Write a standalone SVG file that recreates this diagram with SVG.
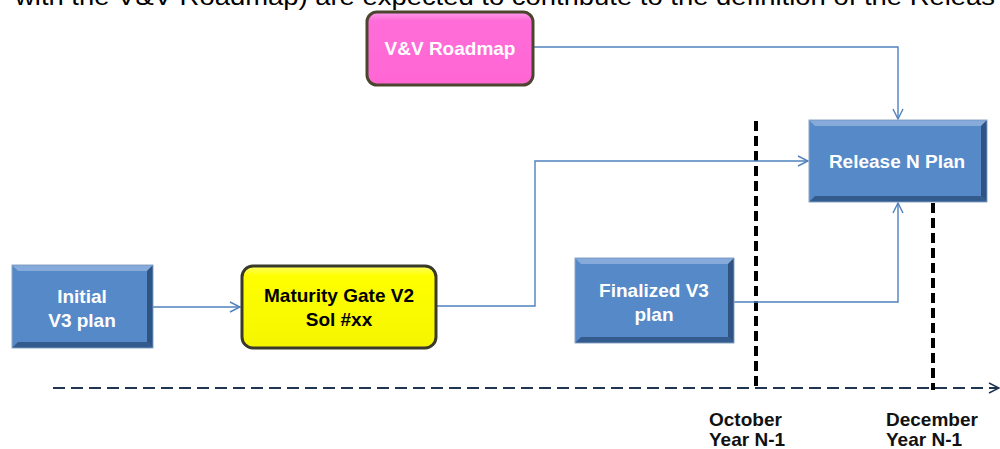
<svg xmlns="http://www.w3.org/2000/svg" width="1000" height="449" viewBox="0 0 1000 449">
<style>
.lbl{font-family:"Liberation Sans",Arial,sans-serif;font-weight:bold;font-size:19px;text-anchor:middle}
.w{fill:#ffffff}
.k{fill:#000000}
.conn{fill:none;stroke:#4F81BD;stroke-width:1.4}
.date{font-family:"Liberation Sans",Arial,sans-serif;font-weight:bold;font-size:19px;fill:#111111}
.blue{fill:#5589C8;stroke:#8FA6C2;stroke-width:1}
.hi{fill:#86ABDB}
.sh{fill:#2F5483}
</style>
<defs>
<marker id="arr" viewBox="0 0 12 12" refX="11" refY="6" markerWidth="12" markerHeight="12" markerUnits="userSpaceOnUse" orient="auto">
<path d="M1,1 L11,6 L1,11" fill="none" stroke="#4F81BD" stroke-width="1.4"/>
</marker>
<marker id="tarr" viewBox="0 0 12 12" refX="11" refY="6" markerWidth="12" markerHeight="12" markerUnits="userSpaceOnUse" orient="auto">
<path d="M1,1 L11,6 L1,11" fill="none" stroke="#1F3550" stroke-width="1.5"/>
</marker>
<linearGradient id="pink" x1="0" y1="0" x2="0" y2="1">
<stop offset="0" stop-color="#FF9CEB"/>
<stop offset="0.12" stop-color="#FF6DD8"/>
<stop offset="1" stop-color="#FF66D4"/>
</linearGradient>
<linearGradient id="yel" x1="0" y1="0" x2="0" y2="1">
<stop offset="0" stop-color="#FFFF66"/>
<stop offset="0.12" stop-color="#FFFF00"/>
<stop offset="1" stop-color="#F5F500"/>
</linearGradient>
</defs>

<text x="15" y="5" font-family="Liberation Sans, Arial, sans-serif" font-size="24" fill="#000" textLength="980" lengthAdjust="spacingAndGlyphs">with the V&amp;V Roadmap) are expected to contribute to the definition of the Releas</text>

<g id="timeline">
<line x1="53" y1="388" x2="999" y2="388" stroke="#1F3550" stroke-width="2" stroke-dasharray="12,6" marker-end="url(#tarr)"/>
<line x1="756" y1="121" x2="756" y2="390" stroke="#000" stroke-width="4" stroke-dasharray="10,5"/>
<line x1="933" y1="203" x2="933" y2="390" stroke="#000" stroke-width="4" stroke-dasharray="10,5"/>
<text class="date" x="709" y="426">October</text>
<text class="date" x="709" y="446">Year N-1</text>
<text class="date" x="886" y="426">December</text>
<text class="date" x="886" y="446">Year N-1</text>
</g>

<g id="connectors">
<path class="conn" d="M153,307 L240,307" marker-end="url(#arr)"/>
<path class="conn" d="M436,306 L535,306 L535,161 L808,161" marker-end="url(#arr)"/>
<path class="conn" d="M533,47 L898,47 L898,119" marker-end="url(#arr)"/>
<path class="conn" d="M734,302 L898,302 L898,203" marker-end="url(#arr)"/>
</g>

<g id="vv-roadmap">
<rect x="367" y="12" width="166" height="73" rx="10" fill="url(#pink)" stroke="#4B4530" stroke-width="3"/>
<text class="lbl w" x="450" y="55">V&amp;V Roadmap</text>
</g>

<g id="release-n-plan">
<rect class="blue" x="809" y="120" width="178" height="82"/>
<polygon class="hi" points="809.5,120.5 986.5,120.5 981,126 815,126"/>
<polygon class="sh" points="986.5,120.5 986.5,201.5 981,196 981,126"/>
<polygon class="sh" points="809.5,201.5 986.5,201.5 981,196 815,196" opacity="0.85"/>
<text class="lbl w" x="897" y="168">Release N Plan</text>
</g>

<g id="initial-v3-plan">
<rect class="blue" x="12" y="265" width="141" height="83"/>
<polygon class="hi" points="12.5,265.5 152.5,265.5 147,271 18,271"/>
<polygon class="sh" points="152.5,265.5 152.5,347.5 147,342 147,271"/>
<polygon class="sh" points="12.5,347.5 152.5,347.5 147,342 18,342" opacity="0.85"/>
<text class="lbl w" x="82" y="303">Initial</text>
<text class="lbl w" x="82" y="327">V3 plan</text>
</g>

<g id="maturity-gate">
<rect x="242" y="266" width="194" height="82" rx="11" fill="url(#yel)" stroke="#3A3A2A" stroke-width="3"/>
<text class="lbl k" x="339" y="302">Maturity Gate V2</text>
<text class="lbl k" x="339" y="326">Sol #xx</text>
</g>

<g id="finalized-v3-plan">
<rect class="blue" x="575" y="258" width="159" height="85"/>
<polygon class="hi" points="575.5,258.5 733.5,258.5 728,264 581,264"/>
<polygon class="sh" points="733.5,258.5 733.5,342.5 728,337 728,264"/>
<polygon class="sh" points="575.5,342.5 733.5,342.5 728,337 581,337" opacity="0.85"/>
<text class="lbl w" x="654" y="297">Finalized V3</text>
<text class="lbl w" x="654" y="321">plan</text>
</g>
</svg>
